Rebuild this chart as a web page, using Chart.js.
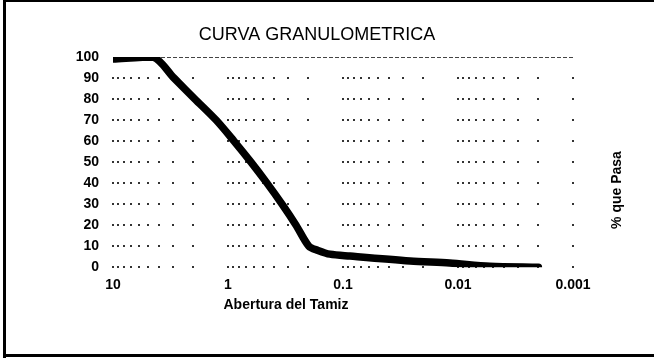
<!DOCTYPE html>
<html>
<head>
<meta charset="utf-8">
<script src="https://cdn.jsdelivr.net/npm/chart.js@4"></script>
<style>
  html, body { margin: 0; padding: 0; background: #fff; }
  #wrap { position: relative; width: 654px; height: 358px; }
</style>
</head>
<body>
<div id="wrap"><canvas id="curva" width="654" height="358"></canvas></div>
<script>
// Abertura del tamiz (mm) y porcentaje que pasa
const aberturas = [10, 4.49, 2.95, 1.94, 1.27, 0.887, 0.631, 0.458, 0.339, 0.256, 0.198, 0.165, 0.13, 0.087, 0.0261, 0.0118, 0.0053, 0.002];
const pasa = [99, 100, 90, 80, 70, 60, 50, 40, 30, 20, 10, 8, 6.2, 5.3, 3, 2, 0.5, 0];

// Ejes
const decadas = [10, 1, 0.1, 0.01, 0.001];
const decadaLabels = ['10', '1', '0.1', '0.01', '0.001'];
const yTicks = [0, 10, 20, 30, 40, 50, 60, 70, 80, 90, 100];

const titulo = 'CURVA GRANULOMETRICA';
const tituloX = 'Abertura del Tamiz';
const tituloY = '% que Pasa';

const FONT = '"Liberation Sans", Arial, sans-serif';

// Posiciones de las divisiones menores del eje log (1..9 por década)
const menoresX = [10];
decadas.slice(1).forEach(d => {
  for (let m = 1; m < 10; m++) menoresX.push(d * m);
});

// Cuadrícula punteada, marco y rótulos
const decoracion = {
  id: 'decoracion',
  beforeDatasetsDraw(chart) {
    const { ctx, chartArea: a, scales: { x, y } } = chart;
    ctx.save();
    ctx.fillStyle = '#333';
    yTicks.slice(0, -1).forEach(v => {
      const py = Math.round(y.getPixelForValue(v));
      menoresX.forEach(m => {
        const px = Math.round(x.getPixelForValue(m));
        ctx.fillRect(px - 1, py - 1, 2, 2);
      });
    });
    ctx.strokeStyle = '#444';
    ctx.lineWidth = 1;
    ctx.setLineDash([4, 2]);
    ctx.beginPath();
    ctx.moveTo(a.left, Math.round(a.top) + 0.5);
    ctx.lineTo(a.right, Math.round(a.top) + 0.5);
    ctx.stroke();
    ctx.restore();
  },
  afterDraw(chart) {
    const { ctx } = chart;
    ctx.save();
    // marco
    ctx.fillStyle = '#000';
    ctx.fillRect(3, 0, 3, 358);
    ctx.fillRect(3, 0, 651, 2);
    ctx.fillRect(3, 354, 651, 3);

    ctx.textAlign = 'center';
    ctx.textBaseline = 'middle';
    ctx.font = '18px ' + FONT;
    ctx.fillText(titulo, 317, 35);
    ctx.font = 'bold 14px ' + FONT;
    ctx.fillText(tituloX, 286, 305);
    ctx.translate(617, 190);
    ctx.rotate(-Math.PI / 2);
    ctx.fillText(tituloY, 0, 0);
    ctx.restore();
  }
};

new Chart(document.getElementById('curva'), {
  type: 'line',
  data: {
    datasets: [{
      data: aberturas.map((v, i) => ({ x: v, y: pasa[i] })),
      borderColor: '#000',
      borderWidth: 7.5,
      borderCapStyle: 'round',
      borderJoinStyle: 'round',
      tension: 0.3,
      pointRadius: 0,
      fill: false
    }]
  },
  options: {
    responsive: false,
    animation: false,
    layout: { padding: { left: 0, right: 81, top: 57, bottom: 54 } },
    plugins: {
      legend: { display: false },
      tooltip: { enabled: false }
    },
    scales: {
      x: {
        type: 'logarithmic',
        reverse: true,
        min: 0.001,
        max: 10,
        afterBuildTicks: s => { s.ticks = decadas.map(v => ({ value: v })); },
        grid: { display: false, drawTicks: false },
        border: { display: false },
        ticks: {
          autoSkip: false,
          maxRotation: 0,
          padding: 10,
          color: '#000',
          font: { family: FONT, size: 14, weight: 'bold' },
          callback: v => decadaLabels[decadas.indexOf(v)]
        }
      },
      y: {
        min: 0,
        max: 100,
        afterFit: s => { s.width = 113; },
        grid: { display: false, drawTicks: false },
        border: { display: false },
        ticks: {
          stepSize: 10,
          padding: 14,
          color: '#000',
          font: { family: FONT, size: 14, weight: 'bold' }
        }
      }
    }
  },
  plugins: [decoracion]
});
</script>
</body>
</html>
